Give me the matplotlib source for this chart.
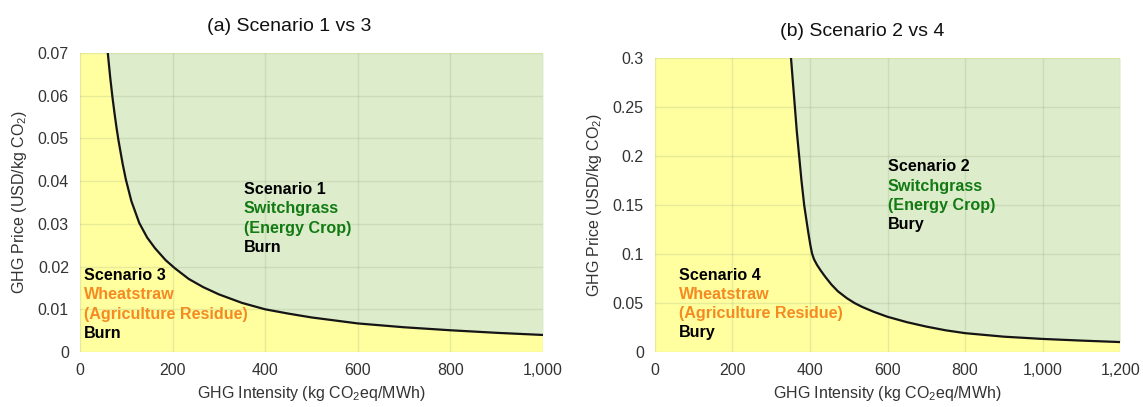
import matplotlib
matplotlib.use("Agg")
import matplotlib.pyplot as plt
from matplotlib.ticker import FuncFormatter, MultipleLocator

plt.rcParams['font.family'] = ['Liberation Sans', 'DejaVu Sans']
plt.rcParams['mathtext.fontset'] = 'custom'
plt.rcParams['mathtext.rm'] = 'Liberation Sans'
plt.rcParams['mathtext.it'] = 'Liberation Sans:italic'
plt.rcParams['mathtext.bf'] = 'Liberation Sans:bold'

# break-even curve, scenario 1 vs 3 (GHG intensity, GHG price)
s13_intensity = [60, 65, 70, 75, 79, 83, 92, 99, 111, 128, 145, 162, 185, 205, 235, 266,
                 300, 350, 400, 450, 500, 600, 700, 800, 900, 1000]
s13_price = [0.0700, 0.0645, 0.0597, 0.0555, 0.0524, 0.0496, 0.0441, 0.0404, 0.0353, 0.0302,
             0.0268, 0.0243, 0.0215, 0.0196, 0.0171, 0.0152, 0.0135, 0.0115, 0.0100, 0.0090,
             0.0081, 0.0067, 0.0058, 0.0051, 0.0045, 0.0040]

# break-even curve, scenario 2 vs 4
s24_intensity = [351, 356, 361, 366, 372, 378, 385, 391, 396, 401, 405, 410, 418, 428, 439,
                 455, 472, 495, 515, 535, 565, 600, 650, 700, 750, 800, 900, 1000, 1100, 1200]
s24_price = [0.300, 0.275, 0.250, 0.225, 0.200, 0.175, 0.150, 0.134, 0.121, 0.109, 0.101,
             0.095, 0.089, 0.083, 0.077, 0.069, 0.062, 0.055, 0.050, 0.046, 0.041, 0.036,
             0.0305, 0.026, 0.0222, 0.0193, 0.0157, 0.0134, 0.0117, 0.0102]

titles = ["(a) Scenario 1 vs 3", "(b) Scenario 2 vs 4"]
upper_labels = [("Scenario 1", "Switchgrass", "(Energy Crop)", "Burn"),
                ("Scenario 2", "Switchgrass", "(Energy Crop)", "Bury")]
lower_labels = [("Scenario 3", "Wheatstraw", "(Agriculture Residue)", "Burn"),
                ("Scenario 4", "Wheatstraw", "(Agriculture Residue)", "Bury")]

YELLOW = '#FFFFA0'
GREEN = '#DDEDCC'
GREEN_TXT = '#137A13'
ORANGE = '#F58A22'
TXT = '#333333'

fig = plt.figure(figsize=(11.43, 4.07), dpi=100)
ax1 = fig.add_axes([0.070, 0.135, 0.405, 0.735])
ax2 = fig.add_axes([0.573, 0.135, 0.407, 0.722])


def label_block(ax, x, y, lines, colors):
    for i, (s, c) in enumerate(zip(lines, colors)):
        ax.annotate(s, xy=(x, y), xytext=(0, -13.9 * i), textcoords='offset points',
                    ha='left', va='center', fontsize=11.6, fontweight='bold', color=c)


def setup(ax, xs, ys, xmax, ymax, ystep, title, tx):
    ax.set_facecolor(YELLOW)
    ax.fill_between(xs, ys, ymax, color=GREEN, lw=0, zorder=1)
    ax.plot(xs, ys, color='#151515', lw=1.6, zorder=3, solid_joinstyle='round')
    ax.set_xlim(0, xmax)
    ax.set_ylim(0, ymax)
    ax.xaxis.set_major_locator(MultipleLocator(200))
    ax.yaxis.set_major_locator(MultipleLocator(ystep))
    ax.xaxis.set_major_formatter(FuncFormatter(lambda v, p: f'{int(round(v)):,}'))
    ax.yaxis.set_major_formatter(FuncFormatter(lambda v, p: f'{round(v, 4):g}'))
    ax.grid(True, color='#8a9a70', alpha=0.2, lw=1)
    ax.set_axisbelow(False)
    for sp in ax.spines.values():
        sp.set_visible(False)
    ax.tick_params(length=0, labelsize=11.5, labelcolor=TXT, pad=8)
    ax.set_xlabel('GHG Intensity (kg CO$_2$eq/MWh)', fontsize=11.5, color=TXT, labelpad=4)
    ax.set_ylabel('GHG Price (USD/kg CO$_2$)', fontsize=11.5, color=TXT, labelpad=6)
    ax.set_title(title, fontsize=14, color='#111111', pad=16, x=tx)


setup(ax1, s13_intensity, s13_price, 1000, 0.07, 0.01, titles[0], 0.452)
setup(ax2, s24_intensity, s24_price, 1200, 0.3, 0.05, titles[1], 0.446)

label_block(ax1, 354, 0.038, upper_labels[0], ['black', GREEN_TXT, GREEN_TXT, 'black'])
label_block(ax1, 9, 0.0179, lower_labels[0], ['black', ORANGE, ORANGE, 'black'])
label_block(ax2, 600, 0.189, upper_labels[1], ['black', GREEN_TXT, GREEN_TXT, 'black'])
label_block(ax2, 63, 0.0786, lower_labels[1], ['black', ORANGE, ORANGE, 'black'])

fig.savefig('out.png', dpi=100)
